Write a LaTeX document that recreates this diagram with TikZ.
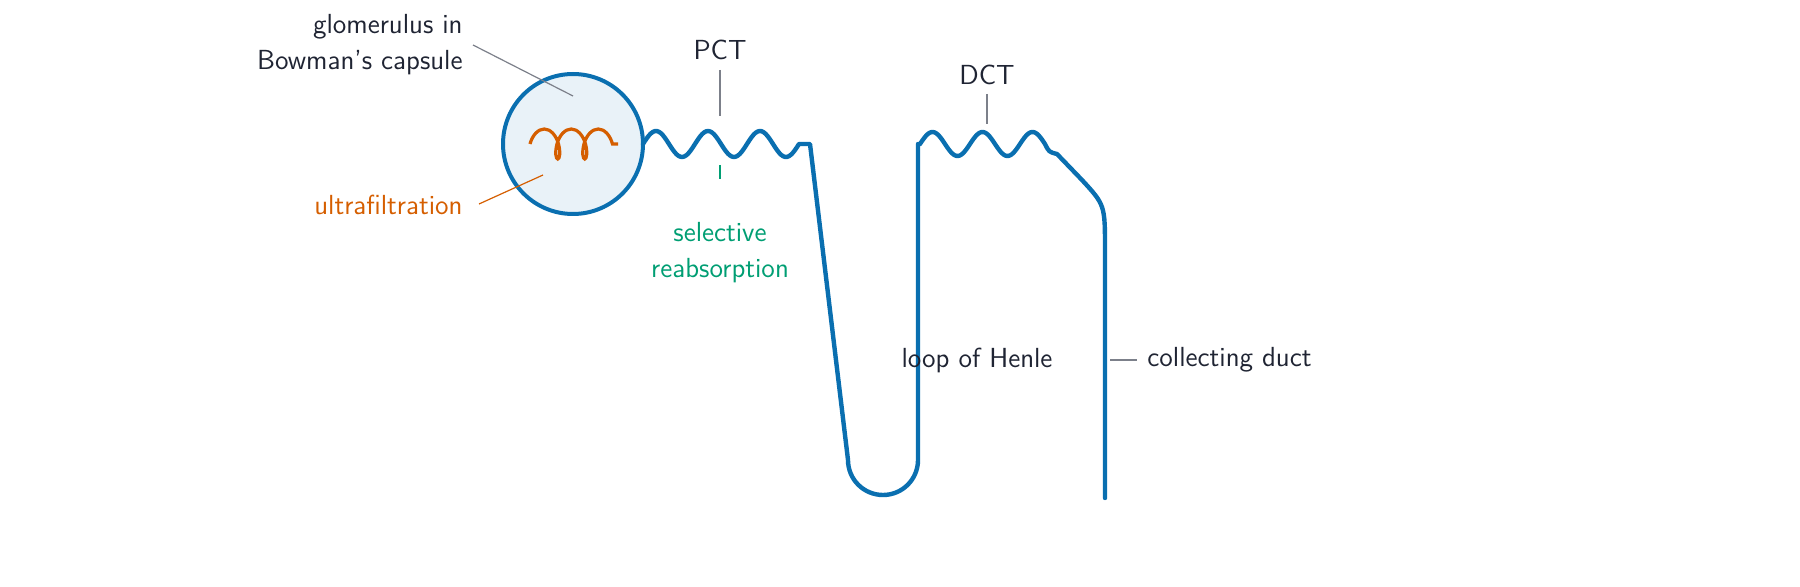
\documentclass[tikz,border=0pt]{standalone}
\usetikzlibrary{decorations.pathmorphing}
\renewcommand{\familydefault}{\sfdefault}
\definecolor{tblue}{HTML}{0A6FB0}
\definecolor{torange}{HTML}{D55E00}
\definecolor{tgreen}{HTML}{009E73}
\definecolor{tgray}{HTML}{7C808A}
\definecolor{ttext}{HTML}{1F2433}
\definecolor{tfill}{HTML}{E9F2F8}
\begin{document}
\begin{tikzpicture}[x=0.5pt,y=-0.5pt,
  lbl/.style={text=ttext,font=\fontsize{13.8}{17}\selectfont,inner sep=0pt},
  tube/.style={tblue,line width=2.2pt,line cap=round,line join=round},
  lead/.style={tgray,line width=0.6pt}]
\node[circle,draw=tblue,fill=tfill,line width=2pt,minimum size=70pt] (glom) at (573,144) {};
\coordinate (c1) at (530,144); \coordinate (c2) at (618,144);
\draw[torange,line width=1.6pt,decorate,decoration={coil,amplitude=7.5pt,segment length=13.5pt,aspect=0.5}] (c1) -- (c2);
\draw[tube] plot[domain=0:156,samples=80] ({643+\x},{144-13*sin(6.923*\x)}) -- (810,144) -- (848,460) arc[start angle=180,end angle=0,radius=35] -- (918,144) -- (920,144)
  plot[domain=0:125,samples=80] ({920+\x},{144-12*sin(7.2*\x)}) .. controls (1049,152) .. (1057,154) -- (1082,180) .. controls (1105,205) .. (1105,250) -- (1105,498);
\node[lbl,align=right,anchor=east] (gl) at (463,45) {glomerulus in\\[1pt]Bowman's capsule};
\coordinate (g1) at (473,45); \coordinate (g2) at (573,96);
\draw[lead] (g1) -- (g2);
\node[lbl] (pct) at (720,50) {PCT};
\coordinate (p1) at (720,70); \coordinate (p2) at (720,116);
\draw[lead] (p1) -- (p2);
\node[lbl,text=torange,anchor=east] (uf) at (463,205) {ultrafiltration};
\coordinate (u1) at (479,204); \coordinate (u2) at (543,175);
\draw[torange,line width=0.6pt] (u1) -- (u2);
\node[lbl,text=tgreen,align=center] (sr) at (720,253) {selective\\[1pt]reabsorption};
\coordinate (s1) at (720,165); \coordinate (s2) at (720,179);
\draw[tgreen,line width=0.6pt] (s1) -- (s2);
\node[lbl] (dct) at (987,75) {DCT};
\coordinate (d1) at (987,94); \coordinate (d2) at (987,124);
\draw[lead] (d1) -- (d2);
\node[lbl] (loh) at (977,360) {loop of Henle};
\node[lbl,anchor=west] (cd) at (1147,360) {collecting duct};
\coordinate (k1) at (1110,360); \coordinate (k2) at (1137,360);
\draw[lead] (k1) -- (k2);
\pgfresetboundingbox
\useasboundingbox (0,0) rectangle (1800,587);
\end{tikzpicture}
\end{document}
